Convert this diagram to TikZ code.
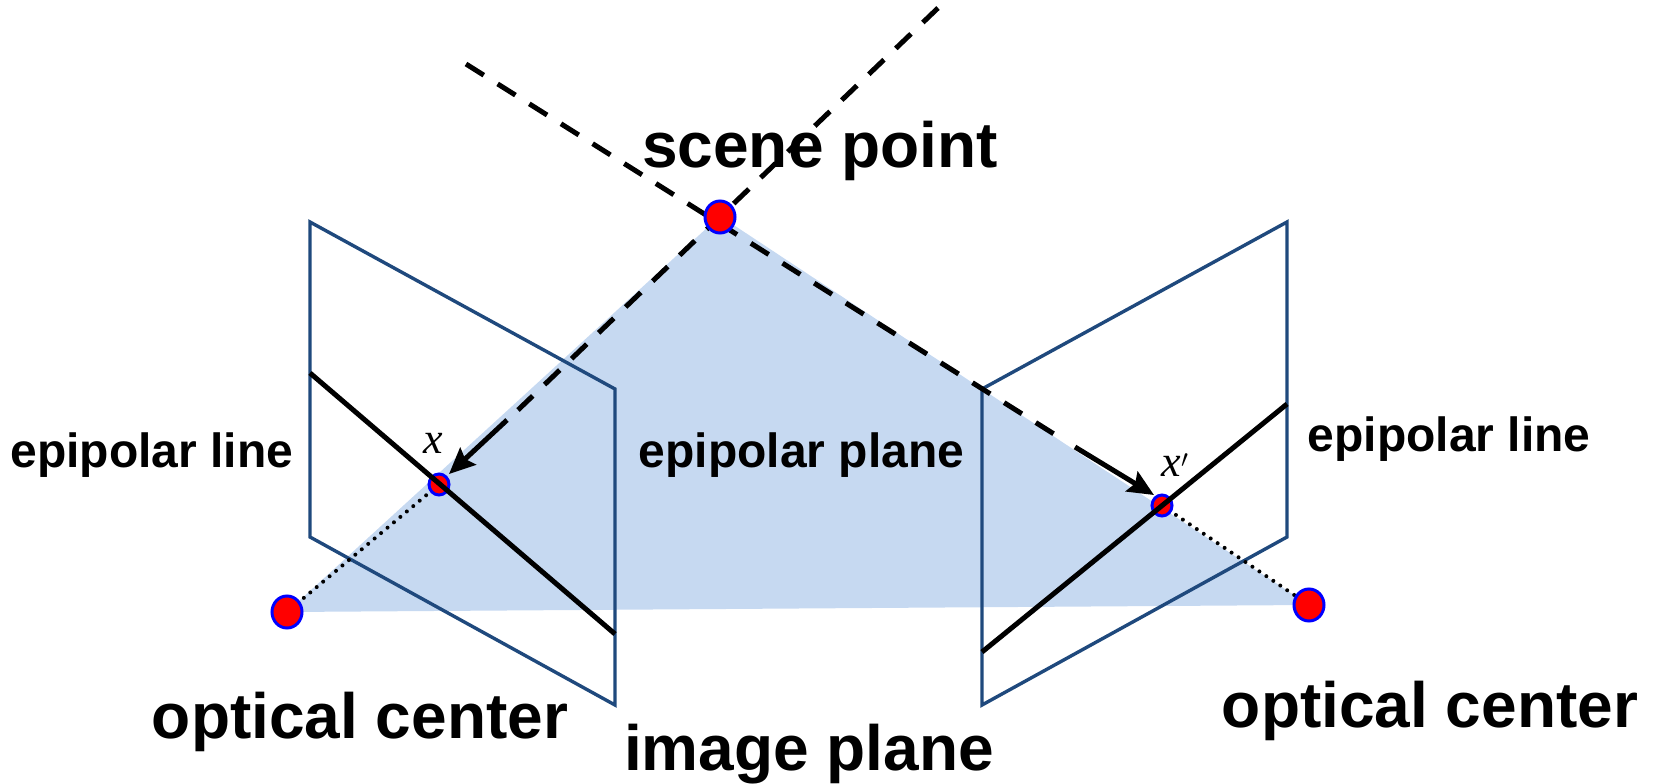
\documentclass[tikz,border=0pt]{standalone}
\usepackage{fontspec}
\setmainfont{Liberation Sans}
\newfontfamily\serifit{Liberation Serif}
\usetikzlibrary{arrows.meta,shapes.geometric}
\definecolor{planeblue}{RGB}{198,217,241}
\definecolor{frameblue}{RGB}{31,73,125}
\tikzset{
  x=1pt,y=-1pt,
  framepoly/.style={draw=frameblue,line width=3.4pt,line join=miter},
  epiline/.style={draw=black,line width=5pt},
  dashline/.style={draw=black,line width=5pt,dash pattern=on 21pt off 16.4pt},
  arrowline/.style={draw=black,line width=5pt,-{Stealth[length=26pt,width=23pt,inset=4pt]}},
  dotline/.style={draw=black,line width=4pt,dash pattern=on 0pt off 8.4pt,line cap=round},
  bigpoint/.style={ellipse,draw=blue,line width=3pt,fill=red,minimum width=30pt,minimum height=32pt,inner sep=0pt},
  smallpoint/.style={ellipse,draw=blue,line width=3pt,fill=red,minimum width=20pt,minimum height=21pt,inner sep=0pt},
  biglabel/.style={font=\bfseries\fontsize{64}{66}\selectfont,inner sep=0pt,anchor=center},
  midlabel/.style={font=\bfseries\fontsize{48}{50}\selectfont,inner sep=0pt,anchor=center},
  mathlabel/.style={font=\serifit\itshape\fontsize{44}{46}\selectfont,inner sep=0pt,anchor=center},
}
\begin{document}
\begin{tikzpicture}
\useasboundingbox (0,0) rectangle (1655,784);
\coordinate (S) at (720,217);
\coordinate (L) at (287,612);
\coordinate (R) at (1309,605);
\coordinate (XL) at (439,484.5);
\coordinate (XR) at (1162,505.5);
\coordinate (far1) at (466,64);
\coordinate (far2) at (938,8);
\coordinate (midL) at (507,420);
\coordinate (midR) at (1075,447);
\coordinate (dashendL) at (518,410);
\coordinate (dashendR) at (1054,434);
\coordinate (tipL) at (449,474);
\coordinate (tipR) at (1154,495);
\coordinate (planeS) at (720,216);
\coordinate (la) at (310,222); \coordinate (lb) at (615,389);
\coordinate (lc) at (615,705); \coordinate (ld) at (310,537);
\coordinate (ra) at (1287,222); \coordinate (rb) at (982,389);
\coordinate (rc) at (982,705); \coordinate (rd) at (1287,537);
\coordinate (e1) at (310,373); \coordinate (e2) at (615,634);
\coordinate (e3) at (1287,404); \coordinate (e4) at (982,652);

\fill[planeblue] (planeS) -- (R) -- (L) -- cycle;
\draw[framepoly] (la) -- (lb) -- (lc) -- (ld) -- cycle;
\draw[framepoly] (ra) -- (rb) -- (rc) -- (rd) -- cycle;
\node[biglabel] (tscene) at (820,151) {scene point};
\node[biglabel] (tocl) at (360,722) {optical center};
\node[biglabel] (tocr) at (1430,711) {optical center};
\node[biglabel] (timg) at (809,754) {image plane};
\node[midlabel] (tel) at (152,455) {epipolar line};
\node[midlabel] (ter) at (1449,439) {epipolar line};
\node[midlabel] (tep) at (801.5,455) {epipolar plane};
\node[mathlabel] (tx) at (433,443) {x};
\node[mathlabel] (txp) at (1175,465) {x$'$};
\draw[dashline] (far1) -- (dashendR);
\draw[dashline] (far2) -- (dashendL);
\draw[arrowline] (midR) -- (tipR);
\draw[arrowline] (midL) -- (tipL);
\draw[dotline] (XL) -- (L);
\draw[dotline] (XR) -- (R);
\node[bigpoint] (nS) at (S) {};
\node[bigpoint] (nL) at (L) {};
\node[bigpoint] (nR) at (R) {};
\node[smallpoint] (nXL) at (XL) {};
\node[smallpoint] (nXR) at (XR) {};
\draw[epiline] (e1) -- (e2);
\draw[epiline] (e3) -- (e4);
\end{tikzpicture}
\end{document}
